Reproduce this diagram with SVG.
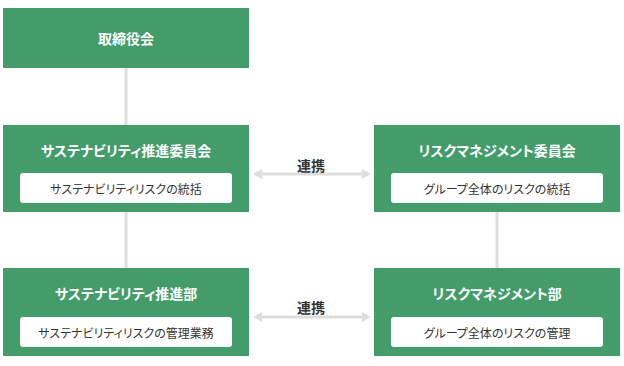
<svg xmlns="http://www.w3.org/2000/svg" width="624" height="366" viewBox="0 0 624 366">
<defs>
<style>
.box{fill:#449c6a;}
.inner{fill:#ffffff;}
.title{font-family:"Noto Sans CJK JP","Noto Sans",sans-serif;font-size:14px;font-weight:bold;fill:#ffffff;text-anchor:middle;dominant-baseline:central;font-feature-settings:"palt";}
.sub{font-family:"Noto Sans CJK JP","Noto Sans",sans-serif;font-size:12px;fill:#333333;text-anchor:middle;dominant-baseline:central;font-feature-settings:"palt";}
.lbl{font-family:"Noto Sans CJK JP","Noto Sans",sans-serif;font-size:14px;font-weight:bold;fill:#333333;text-anchor:middle;dominant-baseline:central;}
.line{stroke:#dddddd;stroke-width:3;fill:none;}
.head{fill:#dddddd;}
</style>
</defs>
<g id="connectors">
<line class="line" x1="126" y1="68" x2="126" y2="125"/>
<line class="line" x1="126" y1="212" x2="126" y2="268"/>
<line class="line" x1="497" y1="212" x2="497" y2="268"/>
<line class="line" x1="260" y1="174" x2="364" y2="174"/>
<polygon class="head" points="253,174 262,169 262,179"/>
<polygon class="head" points="371,174 362,169 362,179"/>
<text class="lbl" x="311" y="165">連携</text>
<line class="line" x1="260" y1="317" x2="364" y2="317"/>
<polygon class="head" points="253,317 262,312 262,322"/>
<polygon class="head" points="371,317 362,312 362,322"/>
<text class="lbl" x="311" y="307">連携</text>
</g>
<g id="board">
<rect class="box" x="3" y="8" width="246" height="60"/>
<text class="title" x="126" y="38">取締役会</text>
</g>
<g id="sustainability-committee">
<rect class="box" x="3" y="125" width="246" height="87"/>
<text class="title" x="126" y="150">サステナビリティ推進委員会</text>
<rect class="inner" x="20" y="173" width="212" height="30" rx="3"/>
<text class="sub" x="126" y="188">サステナビリティリスクの統括</text>
</g>
<g id="risk-committee">
<rect class="box" x="374" y="125" width="246" height="87"/>
<text class="title" x="497" y="150">リスクマネジメント委員会</text>
<rect class="inner" x="391" y="173" width="212" height="30" rx="3"/>
<text class="sub" x="497" y="188">グループ全体のリスクの統括</text>
</g>
<g id="sustainability-dept">
<rect class="box" x="3" y="268" width="246" height="88"/>
<text class="title" x="126" y="293">サステナビリティ推進部</text>
<rect class="inner" x="20" y="317" width="212" height="30" rx="3"/>
<text class="sub" x="126" y="332">サステナビリティリスクの管理業務</text>
</g>
<g id="risk-dept">
<rect class="box" x="374" y="268" width="246" height="88"/>
<text class="title" x="497" y="293">リスクマネジメント部</text>
<rect class="inner" x="391" y="317" width="212" height="30" rx="3"/>
<text class="sub" x="497" y="332">グループ全体のリスクの管理</text>
</g>
</svg>
